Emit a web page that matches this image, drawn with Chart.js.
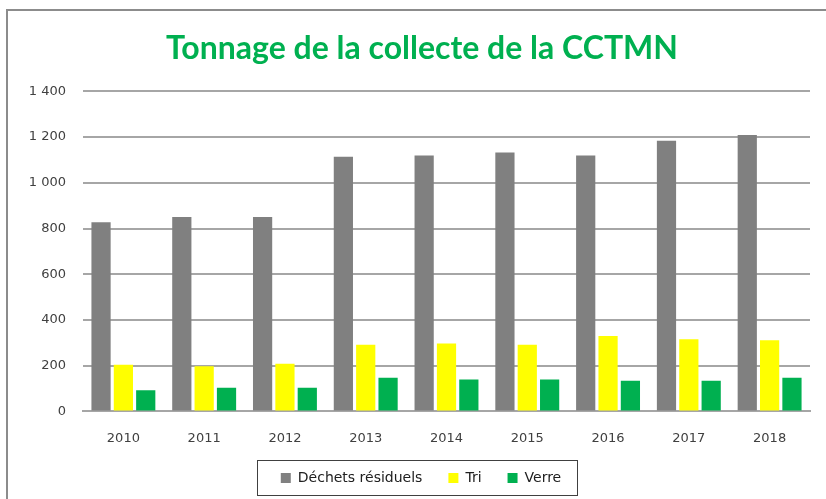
<!DOCTYPE html>
<html>
<head>
<meta charset="utf-8">
<script src="https://cdn.jsdelivr.net/npm/chart.js@4/dist/chart.umd.min.js"></script>
<style>
  body { margin: 0; background: #fff; overflow: hidden; }
  #frame {
    position: absolute; left: 6px; top: 9px;
    width: 840px; height: 510px;
    border: 2px solid #8c8c8c;
    background: #fff;
  }
  #wrap { position: absolute; left: 0; top: 0; width: 828px; height: 496px; }
</style>
</head>
<body>
<div id="frame"><div id="wrap"><canvas id="chart"></canvas></div></div>
<script>
const years = ['2010', '2011', '2012', '2013', '2014', '2015', '2016', '2017', '2018'];
const dechets = [827, 850, 850, 1114, 1120, 1133, 1120, 1184, 1209];
const tri = [204, 198, 209, 292, 297, 292, 330, 316, 311];
const verre = [92, 104, 104, 147, 140, 140, 134, 134, 147];
const yTicks = [0, 200, 400, 600, 800, 1000, 1200, 1400];

const COLORS = {
  gris: '#808080',
  jaune: '#FFFF00',
  vert: '#00B050'
};

// titre et legende un peu decales (comme dans Excel)
const shiftBlocks = {
  id: 'shiftBlocks',
  afterLayout(chart) {
    if (chart.titleBlock) chart.titleBlock.left += 26;
    const lg = chart.legend;
    if (lg) {
      lg.left += 12;
      lg.right += 12;
      lg.top -= 12;
      lg.bottom -= 12;
    }
  }
};

// cadre autour de la legende
const legendBox = {
  id: 'legendBox',
  afterDraw(chart) {
    const lg = chart.legend;
    if (!lg || !lg.legendHitBoxes.length) return;
    const boxes = lg.legendHitBoxes;
    let l = boxes[0].left, r = boxes[0].left + boxes[0].width;
    boxes.forEach(b => { l = Math.min(l, b.left); r = Math.max(r, b.left + b.width); });
    const mid = boxes[0].top + boxes[0].height / 2;
    const ctx = chart.ctx;
    ctx.save();
    ctx.strokeStyle = '#404040';
    ctx.lineWidth = 1;
    ctx.strokeRect(Math.round(l - 24) + 0.5, Math.round(mid - 18) + 0.5, Math.round(r - l + 40), 35);
    ctx.restore();
  }
};

const fmt = v => String(v).replace(/\B(?=(\d{3})+(?!\d))/g, ' ');

new Chart(document.getElementById('chart'), {
  type: 'bar',
  data: {
    labels: years,
    datasets: [
      { label: 'Déchets résiduels', data: dechets, backgroundColor: COLORS.gris },
      { label: 'Tri', data: tri, backgroundColor: COLORS.jaune },
      { label: 'Verre', data: verre, backgroundColor: COLORS.vert }
    ]
  },
  options: {
    responsive: true,
    maintainAspectRatio: false,
    animation: false,
    datasets: { bar: { categoryPercentage: 0.83, barPercentage: 0.86 } },
    layout: { padding: { left: 0, right: 26, top: 0, bottom: 0 } },
    scales: {
      x: {
        grid: { display: false },
        border: { color: '#a6a6a6', width: 2 },
        ticks: { color: '#404040', font: { family: 'DejaVu Sans', size: 13 }, padding: 11 }
      },
      y: {
        min: 0, max: 1400,
        afterBuildTicks: s => { s.ticks = yTicks.map(v => ({ value: v })); },
        afterFit: s => { s.width = 75; },
        grid: { color: '#a6a6a6', lineWidth: 2, drawTicks: false },
        border: { display: false },
        ticks: {
          color: '#404040', font: { family: 'DejaVu Sans', size: 13 }, padding: 17,
          callback: v => fmt(v)
        }
      }
    },
    plugins: {
      title: {
        display: true,
        text: 'Tonnage de la collecte de la CCTMN',
        color: '#00B050',
        font: { family: 'Lato', size: 32, weight: 'bold' },
        padding: { top: 18, bottom: 24 }
      },
      legend: {
        position: 'bottom',
        labels: {
          color: '#202020',
          font: { family: 'DejaVu Sans', size: 14 },
          boxWidth: 10, boxHeight: 10, padding: 26
        }
      },
      tooltip: { enabled: false }
    }
  },
  plugins: [shiftBlocks, legendBox]
});
</script>
</body>
</html>
